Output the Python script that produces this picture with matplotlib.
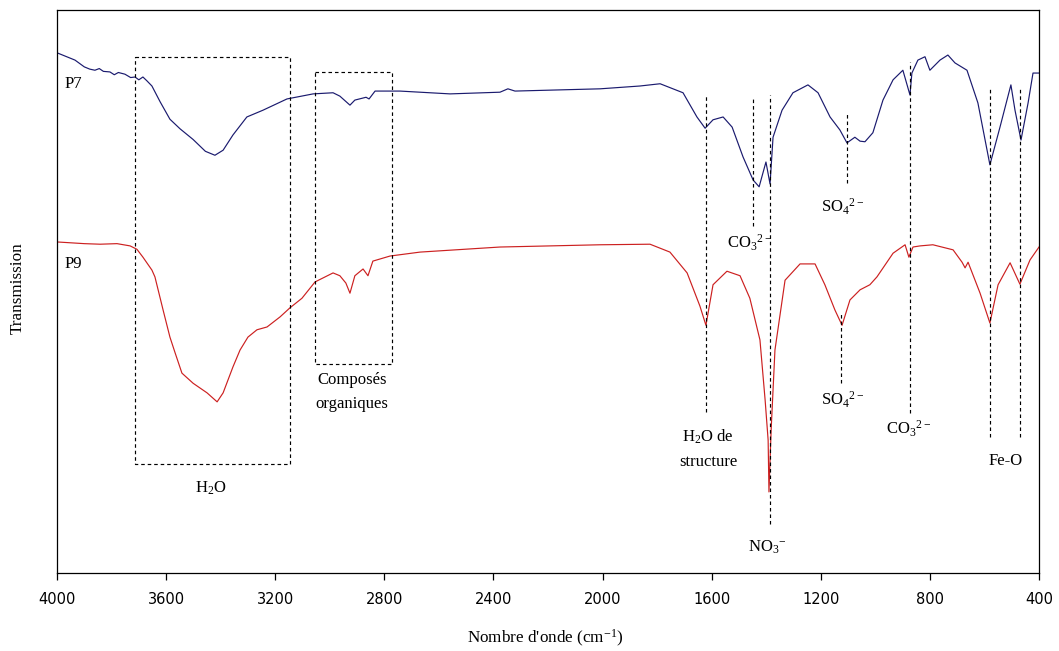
import matplotlib
matplotlib.use("Agg")
import matplotlib.pyplot as plt

plt.rcParams['font.family'] = ['Liberation Serif', 'DejaVu Serif']
plt.rcParams['mathtext.fontset'] = 'custom'
plt.rcParams['mathtext.rm'] = 'Liberation Serif'
plt.rcParams['mathtext.it'] = 'Liberation Serif:italic'

# region Data (wavenumber in cm-1, transmission in arbitrary units)
p7_wn = [4000, 3934, 3900, 3880, 3861, 3845, 3830, 3806, 3790, 3775, 3751, 3730, 3714,
         3700, 3685, 3670, 3652, 3622, 3586, 3549, 3501, 3456, 3421, 3391, 3355, 3304,
         3245, 3157, 3061, 2988, 2963, 2926, 2908, 2867, 2856, 2834, 2743, 2559, 2376,
         2347, 2321, 2009, 1863, 1789, 1705, 1654, 1624, 1595, 1558, 1525, 1485, 1448,
         1426, 1401, 1386, 1375, 1342, 1302, 1247, 1210, 1166, 1130, 1104, 1075, 1056,
         1038, 1009, 972, 935, 899, 873, 866, 844, 818, 800, 763, 734, 708, 664, 624,
         580, 543, 503, 488, 466, 440, 422, 400]
p7_t = [92.4, 91.1, 89.9, 89.5, 89.3, 89.6, 89.1, 89.0, 88.5, 88.9, 88.6, 88.0, 88.1,
        87.6, 88.1, 87.4, 86.5, 83.7, 80.6, 78.9, 77.0, 74.9, 74.2, 75.1, 77.8, 81.0,
        82.2, 84.2, 85.1, 85.3, 84.7, 83.1, 84.0, 84.5, 84.2, 85.6, 85.6, 85.1, 85.4,
        86.0, 85.6, 86.0, 86.5, 86.9, 85.3, 81.0, 79.0, 80.5, 81.0, 79.2, 73.9, 69.8,
        68.6, 73.0, 69.1, 77.4, 82.2, 85.3, 86.7, 85.3, 81.0, 78.7, 76.4, 77.4, 76.7,
        76.6, 78.2, 84.0, 87.6, 89.3, 84.9, 88.8, 91.1, 91.7, 89.3, 91.1, 92.0, 90.6,
        89.3, 83.5, 72.5, 79.2, 86.7, 82.2, 76.9, 83.5, 88.8, 88.8]

p9_wn = [4000, 3900, 3842, 3780, 3732, 3707, 3685, 3652, 3641, 3611, 3586, 3567, 3542,
         3501, 3450, 3413, 3391, 3355, 3329, 3300, 3267, 3230, 3182, 3146, 3102, 3054,
         2988, 2963, 2941, 2926, 2908, 2878, 2860, 2842, 2779, 2669, 2376, 2009, 1826,
         1753, 1690, 1643, 1621, 1595, 1544, 1496, 1460, 1423, 1404, 1393, 1390, 1382,
         1368, 1331, 1276, 1221, 1185, 1148, 1122, 1093, 1056, 1020, 994, 935, 891, 877,
         862, 836, 789, 715, 682, 671, 660, 616, 580, 550, 506, 470, 433, 400]
p9_t = [58.8, 58.5, 58.4, 58.5, 58.1, 57.5, 56.1, 53.8, 52.6, 46.7, 41.9, 39.1, 35.5,
        33.7, 32.0, 30.4, 32.0, 36.6, 39.6, 41.9, 43.2, 43.7, 45.5, 47.1, 48.8, 51.7,
        53.3, 52.8, 51.5, 49.7, 52.8, 54.0, 52.8, 55.4, 56.3, 57.0, 57.9, 58.3, 58.4,
        57.0, 53.3, 47.4, 44.0, 51.2, 53.6, 52.8, 48.8, 41.4, 30.7, 23.6, 14.4, 25.4,
        39.6, 52.0, 54.9, 54.9, 51.2, 46.7, 44.0, 48.5, 50.3, 51.2, 52.6, 56.8, 58.3,
        56.1, 57.9, 58.1, 58.3, 57.4, 55.2, 54.2, 55.2, 49.7, 44.4, 51.2, 55.1, 51.3,
        55.6, 57.9]

# band markers: wavenumber, top, bottom
band_wn = [1621, 1449, 1386, 1104, 1126, 873, 580, 470]
band_top = [84.9, 84.5, 84.9, 81.9, 46.4, 90.8, 86.3, 86.3]
band_bottom = [28.6, 61.6, 8.7, 69.3, 33.7, 28.4, 24.2, 24.2]

# dashed boxes: wn_left, wn_right, top, bottom
box_h2o = [3714, 3146, 91.7, 19.4]
box_org = [3054, 2772, 89.0, 37.1]

# labels: text, wavenumber, y
labels = [(r'H$_2$O', 3435, 15.1),
          ('Composés', 2918, 34.3),
          ('organiques', 2918, 30.0),
          (r'H$_2$O de', 1613, 24.2),
          ('structure', 1613, 19.7),
          (r'NO$_3$$^{\mathrm{-}}$', 1397, 4.6),
          (r'CO$_3$$^{\mathrm{2-}}$', 1460, 58.6),
          (r'SO$_4$$^{\mathrm{2-}}$', 1119, 65.0),
          (r'SO$_4$$^{\mathrm{2-}}$', 1119, 30.7),
          (r'CO$_3$$^{\mathrm{2-}}$', 880, 25.6),
          ('Fe-O', 521, 19.9)]
x_ticks = [4000, 3600, 3200, 2800, 2400, 2000, 1600, 1200, 800, 400]
# endregion

fig = plt.figure(figsize=(10.59, 6.51), dpi=100)
ax = fig.add_axes([57 / 1059, 1 - 573 / 651, 982 / 1059, 563 / 651])

ax.plot(p7_wn, p7_t, color='#1a1a6e', lw=0.85)
ax.plot(p9_wn, p9_t, color='#cc2020', lw=0.85)

for wn, top, bot in zip(band_wn, band_top, band_bottom):
    ax.plot([wn, wn], [bot, top], color='black', lw=0.85, ls=(0, (3, 2.5)))

for box in [box_h2o, box_org]:
    x0, x1, top, bot = box
    ax.plot([x0, x1, x1, x0, x0], [top, top, bot, bot, top],
            color='black', lw=0.85, ls=(0, (3, 2.5)))

ax.text(3974, 86.9, 'P7', fontsize=12, ha='left', va='center')
ax.text(3974, 54.9, 'P9', fontsize=12, ha='left', va='center')
for txt, wn, yv in labels:
    ax.text(wn, yv, txt, fontsize=12, ha='center', va='center')

ax.set_xlim(4000, 400)
ax.set_ylim(0, 100)
ax.set_xticks(x_ticks)
ax.set_xticklabels([str(t) for t in x_ticks], fontsize=10.5, family='DejaVu Sans')
ax.set_yticks([])
ax.tick_params(axis='x', direction='out', length=5, width=0.9, pad=9)
for sp in ax.spines.values():
    sp.set_linewidth(0.9)

fig.text(545 / 1059, 1 - 638 / 651, "Nombre d'onde (cm$^{\\mathrm{-1}}$)", fontsize=12.3,
         ha='center', va='center')
fig.text(18 / 1059, 1 - 288 / 651, 'Transmission', fontsize=12.3, rotation=90,
         ha='center', va='center')

fig.savefig('out.png', dpi=100)
